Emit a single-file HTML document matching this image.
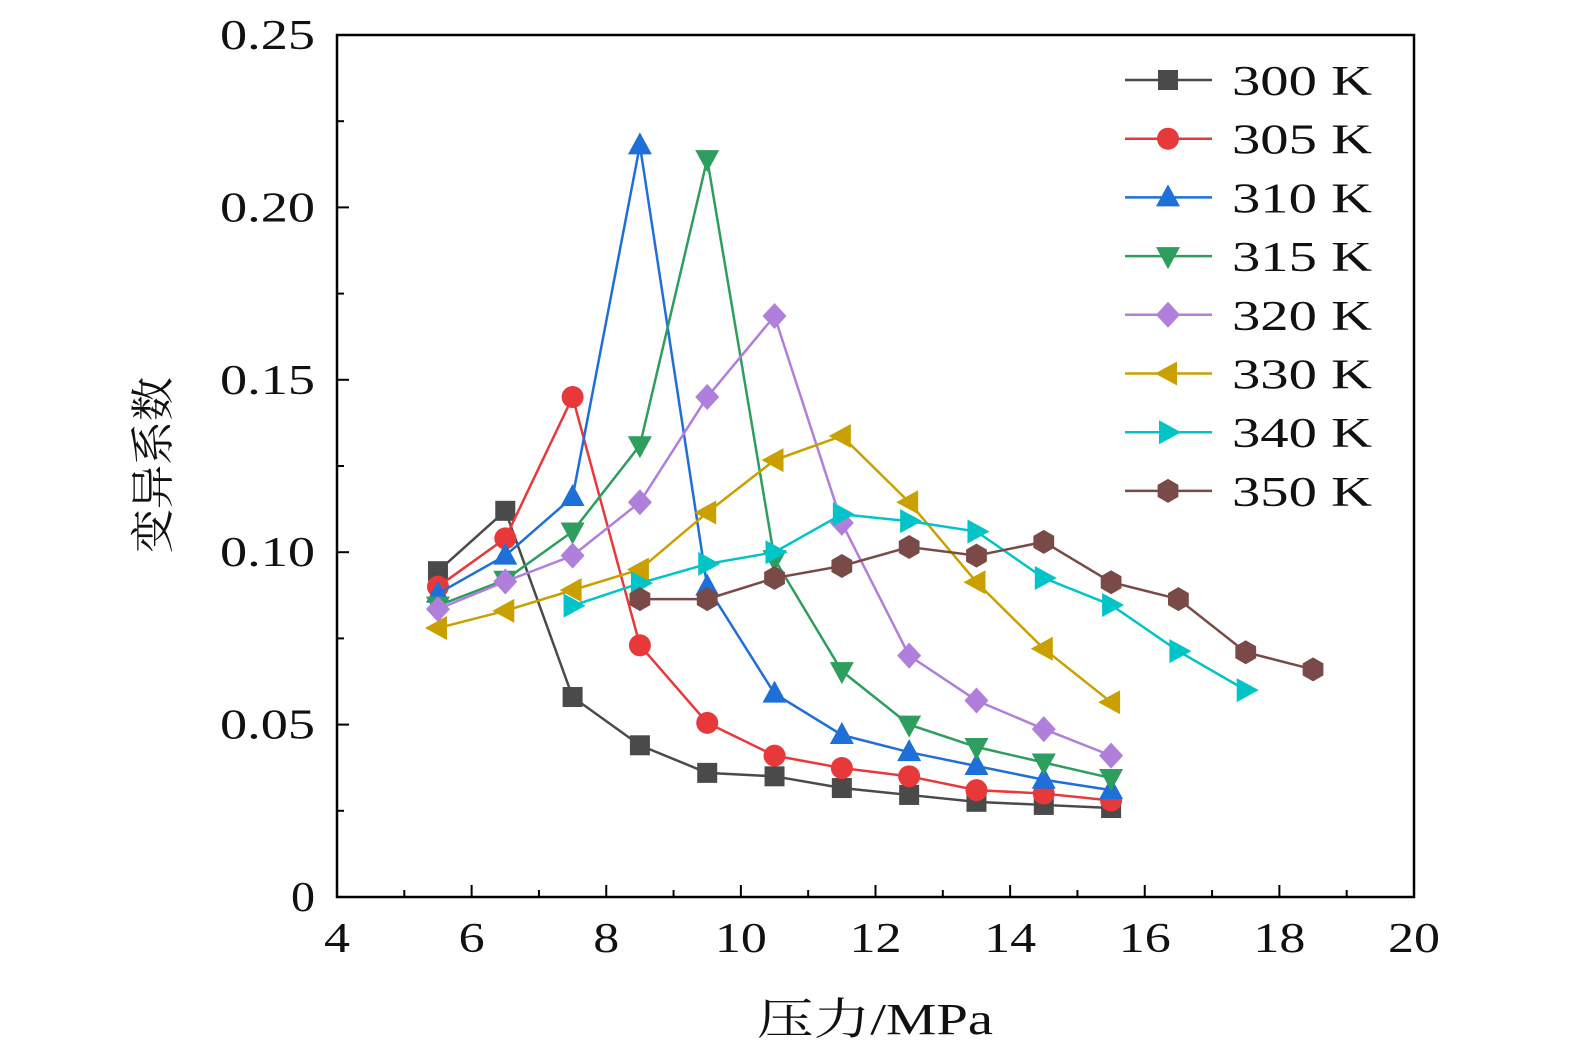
<!DOCTYPE html>
<html><head><meta charset="utf-8">
<style>
html,body{margin:0;padding:0;background:#fff;}
svg{display:block;}
text{font-family:"Liberation Serif","Noto Serif CJK SC",serif;fill:#111;}
</style></head>
<body>
<svg id="chart" width="1575" height="1063" xmlns="http://www.w3.org/2000/svg"></svg>
<script>
const xs = [5.5,6.5,7.5,8.5,9.5,10.5,11.5,12.5,13.5,14.5,15.5,16.5,17.5,18.5];
const seriesNames = ["300 K","305 K","310 K","315 K","320 K","330 K","340 K","350 K"];
const seriesStart = [0,0,0,0,0,0,2,3];
const v300 = [0.0945,0.112,0.058,0.044,0.036,0.035,0.0316,0.0296,0.0276,0.0267,0.0258];
const v305 = [0.090,0.104,0.145,0.073,0.0505,0.041,0.0374,0.035,0.031,0.030,0.028];
const v310 = [0.088,0.099,0.116,0.218,0.090,0.059,0.047,0.042,0.038,0.034,0.031];
const v315 = [0.0845,0.092,0.106,0.131,0.214,0.098,0.0655,0.050,0.0435,0.039,0.0345];
const v320 = [0.0835,0.0915,0.099,0.1145,0.145,0.1685,0.1085,0.070,0.057,0.0487,0.041];
const v330 = [0.078,0.083,0.089,0.095,0.1115,0.1267,0.1337,0.1145,0.0913,0.072,0.0565];
const v340 = [0.0845,0.091,0.0966,0.100,0.111,0.109,0.106,0.0925,0.0847,0.0713,0.060];
const v350 = [0.0864,0.0864,0.0925,0.096,0.1015,0.099,0.103,0.0913,0.0864,0.071,0.066];
const xTicks = [4,6,8,10,12,14,16,18,20];
const yTicks = [0,0.05,0.10,0.15,0.20,0.25];
const yTickLabels = ["0","0.05","0.10","0.15","0.20","0.25"];

const allVals = [v300,v305,v310,v315,v320,v330,v340,v350];
const colors = ["#4a4a4a","#e8393a","#1f6fd8","#2e9e5e","#b07fdc","#c9a000","#00c4c8","#7a4a48"];
const markers = ["square","circle","up","down","diamond","left","right","hex"];

const L=337,R=1414,T=35,B=897;
const X = v => L + (v-4)/(20-4)*(R-L);
const Y = v => B - v/0.25*(B-T);
const svg = document.getElementById('chart');
const NS = "http://www.w3.org/2000/svg";
function mk(tag, attrs, parent){
  const e=document.createElementNS(NS,tag);
  for(const k in attrs) e.setAttribute(k,attrs[k]);
  (parent||svg).appendChild(e); return e;
}
const frame = mk('rect',{x:L,y:T,width:R-L,height:B-T,fill:'none',stroke:'#000','stroke-width':2.5});


for(let v=4; v<=20; v+=1){
  const major = v%2===0;
  const t = mk('line',{x1:X(v),x2:X(v),y1:B,y2:B-(major?12:7),stroke:'#000','stroke-width':2});
  
  
}
xTicks.forEach(v=>{
  const s=String(v);
  const t=mk('text',{x:X(v),y:952,'text-anchor':'middle','font-size':42,textLength:s.length*26,lengthAdjust:'spacingAndGlyphs'});
  t.textContent=s;
  
  
});
for(let i=0;i<=10;i++){
  const v=i*0.025, major=i%2===0;
  const t=mk('line',{x1:L,x2:L+(major?12:7),y1:Y(v),y2:Y(v),stroke:'#000','stroke-width':2});
  
  
}
yTicks.forEach((v,i)=>{
  const s=yTickLabels[i];
  const t=mk('text',{x:315,y:Y(v)+14,'text-anchor':'end','font-size':42,textLength:s.length===1?24:95,lengthAdjust:'spacingAndGlyphs'});
  t.textContent=s;
  
  
});
const xt=mk('text',{x:875,y:1034,'text-anchor':'middle','font-size':44,textLength:236,lengthAdjust:'spacingAndGlyphs'});
xt.textContent='压力/MPa';


const yt=mk('text',{x:0,y:0,'text-anchor':'middle','font-size':44,transform:'translate(168,465) rotate(-90)'});
yt.textContent='变异系数';



function marker(type,cx,cy,color,parent){
  const s=11; let e;
  if(type==='square') e=mk('rect',{x:cx-s+1,y:cy-s+1,width:2*s-2,height:2*s-2,fill:color},parent);
  else if(type==='circle') e=mk('circle',{cx:cx,cy:cy,r:s,fill:color},parent);
  else {
    let pts;
    if(type==='up') pts=[[0,-13],[12,9],[-12,9]];
    else if(type==='down') pts=[[0,13],[12,-9],[-12,-9]];
    else if(type==='left') pts=[[-13,0],[9,-12],[9,12]];
    else if(type==='right') pts=[[13,0],[-9,-12],[-9,12]];
    else if(type==='diamond') pts=[[0,-13],[12,0],[0,13],[-12,0]];
    else { pts=[]; for(let k=0;k<6;k++){const a=Math.PI/6+k*Math.PI/3; pts.push([12*Math.cos(a),12*Math.sin(a)]);} }
    e=mk('polygon',{points:pts.map(p=>(cx+p[0])+','+(cy+p[1])).join(' '),fill:color},parent);
  }
  return e;
}
allVals.forEach((vals,si)=>{
  const g=mk('g',{});
  
  
  const pts=vals.map((v,i)=>[X(xs[seriesStart[si]+i]),Y(v)]);
  const pl=mk('polyline',{points:pts.map(p=>p.join(',')).join(' '),fill:'none',stroke:colors[si],'stroke-width':2.5},g);
  
  
  pts.forEach(p=>{
    const m=marker(markers[si],p[0],p[1],colors[si],g);
    
    
  });
});
const lg=mk('g',{});


seriesNames.forEach((n,i)=>{
  const y=80+i*58.7;
  const e=mk('g',{},lg);
  
  
  mk('line',{x1:1125,x2:1212,y1:y,y2:y,stroke:colors[i],'stroke-width':2.5},e);
  marker(markers[i],1168,y,colors[i],e);
  const t=mk('text',{x:1232,y:y+15,'font-size':42,textLength:140,lengthAdjust:'spacingAndGlyphs'},e);
  t.textContent=n;
});
</script>
</body></html>
